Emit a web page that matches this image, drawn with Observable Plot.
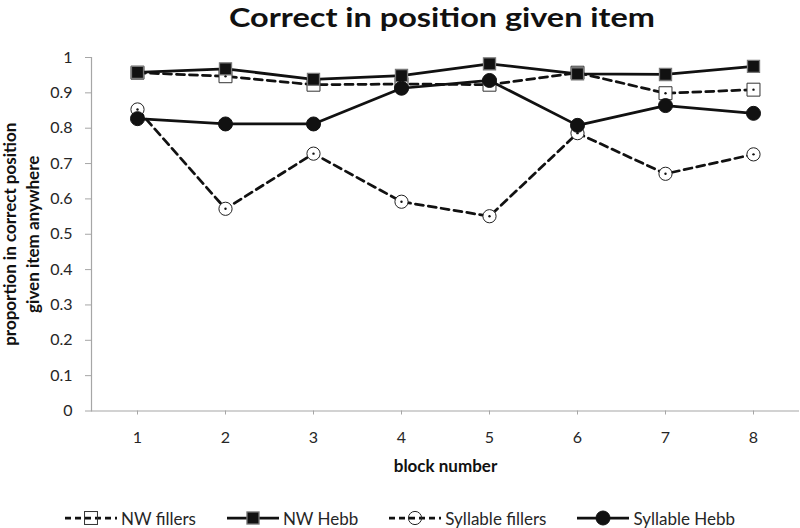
<!DOCTYPE html>
<html>
<head>
<meta charset="utf-8">
<script src="https://cdn.jsdelivr.net/npm/d3@7"></script>
<script src="https://cdn.jsdelivr.net/npm/@observablehq/plot@0.6"></script>
<style>
  body { margin: 0; background: #fff; font-family: Lato, sans-serif; }
  #wrap { width: 800px; height: 528px; overflow: hidden; background: #fff; }
  #title { display: block; }
  #legend { height: 20px; padding-top: 18px; display: flex; justify-content: center; align-items: center; gap: 31px; font: 17px Lato, sans-serif; color: #262626; }
  .item { display: flex; align-items: center; gap: 4px; white-space: nowrap; }
</style>
</head>
<body>
<div id="wrap">
  <svg id="title" width="800" height="40">
    <text x="442" y="27" text-anchor="middle" font-family="Lato" font-weight="bold" font-size="27" fill="#111" textLength="426" lengthAdjust="spacingAndGlyphs">Correct in position given item</text>
  </svg>
  <div id="chart"></div>
  <div id="legend"></div>
</div>
<script>
// ---- data ----
const blocks = [1, 2, 3, 4, 5, 6, 7, 8];
const seriesNames = ["NW fillers", "NW Hebb", "Syllable fillers", "Syllable Hebb"];
const nwFillers  = [0.957, 0.947, 0.923, 0.925, 0.923, 0.957, 0.899, 0.909];
const nwHebb     = [0.958, 0.968, 0.938, 0.949, 0.982, 0.954, 0.952, 0.975];
const sylFillers = [0.853, 0.572, 0.728, 0.592, 0.551, 0.786, 0.671, 0.726];
const sylHebb    = [0.827, 0.812, 0.812, 0.913, 0.935, 0.808, 0.864, 0.842];
const yTicks = [0, 0.1, 0.2, 0.3, 0.4, 0.5, 0.6, 0.7, 0.8, 0.9, 1];
const yTickLabels = ["0", "0.1", "0.2", "0.3", "0.4", "0.5", "0.6", "0.7", "0.8", "0.9", "1"];
const xLabel = "block number";
const yLabelLines = ["proportion in correct position", "given item anywhere"];

// ---- styles ----
const styleOf = {
  "NW fillers":       { dash: "8,5", symbol: "square", fill: "white", stroke: "#333", r: 7.3, sw: 1, open: true },
  "NW Hebb":          { dash: null,  symbol: "square", fill: "#111",  stroke: "#777", r: 6.8, sw: 1.3, open: false },
  "Syllable fillers": { dash: "8,5", symbol: "circle", fill: "white", stroke: "#222", r: 6.6, sw: 1, open: true },
  "Syllable Hebb":    { dash: null,  symbol: "circle", fill: "#111",  stroke: "#111", r: 7,   sw: 1, open: false }
};
const yLabelOffsets = [-81, -58];      // line centres at x≈10 and x≈33
const yLabelLengths = [238, 177];
const xLabelLength = 112;

const values = [nwFillers, nwHebb, sylFillers, sylHebb];
const rows = seriesNames.flatMap((name, i) => blocks.map((b, j) => ({ series: name, block: b, value: values[i][j] })));

const marks = [
  Plot.ruleY([0], { stroke: "#a6a6a6", strokeWidth: 1.2 }),
  Plot.frame({ anchor: "left", stroke: "#a6a6a6", strokeWidth: 1.2 }),
  Plot.axisY({ ticks: yTicks, tickSize: 6, tickPadding: 13, stroke: "#a6a6a6", fill: "#262626",
               tickFormat: d => yTickLabels[yTicks.indexOf(d)], label: null }),
  Plot.axisX({ tickSize: 4, tickPadding: 16.5, stroke: "#a6a6a6", fill: "#262626", label: null }),
  Plot.text([xLabel], { text: d => d, frameAnchor: "bottom", lineAnchor: "middle", textAnchor: "middle", dy: 55.5,
                        fontWeight: "bold", fontSize: 17, fill: "#111", ariaLabel: "xlabel" }),
  ...yLabelLines.map((t, i) => Plot.text([t], { text: d => d, frameAnchor: "left", rotate: -90,
                        lineAnchor: "middle", textAnchor: "middle", dx: yLabelOffsets[i],
                        fontWeight: "bold", fontSize: 17, fill: "#111", ariaLabel: "ylabel" + i }))
];

seriesNames.forEach(name => {
  const s = styleOf[name];
  const d = rows.filter(r => r.series === name);
  marks.push(Plot.line(d, { x: "block", y: "value", stroke: "#111", strokeWidth: 2.75,
                            strokeDasharray: s.dash || undefined }));
  marks.push(Plot.dot(d, { x: "block", y: "value", symbol: s.symbol, r: s.r, fill: s.fill,
                           stroke: s.stroke, strokeWidth: s.sw }));
  if (s.open) marks.push(Plot.dot(d, { x: "block", y: "value", r: 1.2, fill: "#111" }));
});

const chart = Plot.plot({
  width: 800,
  height: 450,
  marginTop: 17,
  marginBottom: 79.5,
  marginLeft: 91,
  marginRight: 1,
  style: { fontFamily: "Lato", fontSize: "16px", background: "white", overflow: "visible" },
  x: { type: "point", domain: blocks, padding: 0.5 },
  y: { domain: [0, 1] },
  marks
});
document.getElementById("chart").appendChild(chart);

// fit label lengths like the reference's narrower font
d3.select(chart).selectAll('g[aria-label="xlabel"] text')
  .attr("textLength", xLabelLength).attr("lengthAdjust", "spacingAndGlyphs");
yLabelLines.forEach((t, i) => {
  d3.select(chart).selectAll(`g[aria-label="ylabel${i}"] text`)
    .attr("textLength", yLabelLengths[i]).attr("lengthAdjust", "spacingAndGlyphs");
});

// ---- legend ----
const legend = document.getElementById("legend");
seriesNames.forEach(name => {
  const s = styleOf[name];
  const item = document.createElement("div");
  item.className = "item";
  const ns = "http://www.w3.org/2000/svg";
  const svg = document.createElementNS(ns, "svg");
  svg.setAttribute("width", 52); svg.setAttribute("height", 16);
  const line = document.createElementNS(ns, "line");
  line.setAttribute("x1", 0); line.setAttribute("x2", 52); line.setAttribute("y1", 8); line.setAttribute("y2", 8);
  line.setAttribute("stroke", "#111"); line.setAttribute("stroke-width", 2.75);
  if (s.dash) line.setAttribute("stroke-dasharray", "6,4");
  svg.appendChild(line);
  let m;
  if (s.symbol === "square") {
    const side = s.r * Math.sqrt(Math.PI);
    m = document.createElementNS(ns, "rect");
    m.setAttribute("x", 26 - side / 2); m.setAttribute("y", 8 - side / 2);
    m.setAttribute("width", side); m.setAttribute("height", side);
  } else {
    m = document.createElementNS(ns, "circle");
    m.setAttribute("cx", 26); m.setAttribute("cy", 8); m.setAttribute("r", s.r);
  }
  m.setAttribute("fill", s.open ? "none" : s.fill);
  m.setAttribute("stroke", s.stroke); m.setAttribute("stroke-width", s.sw);
  svg.appendChild(m);
  item.appendChild(svg);
  const span = document.createElement("span");
  span.textContent = name;
  item.appendChild(span);
  legend.appendChild(item);
});
</script>
</body>
</html>
